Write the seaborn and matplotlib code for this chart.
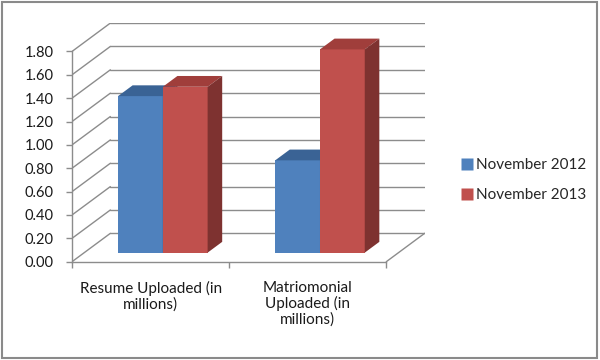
import matplotlib
matplotlib.use("Agg")
import matplotlib.pyplot as plt
from matplotlib.patches import Polygon, Rectangle
from matplotlib.lines import Line2D
import seaborn as sns
import pandas as pd

# --- data ---
categories = ["Resume Uploaded (in\nmillions)", "Matriomonial\nUploaded (in\nmillions)"]
series = ["November 2012", "November 2013"]
nov_2012 = [1.34, 0.79]
nov_2013 = [1.42, 1.74]
y_ticks = [0.0, 0.2, 0.4, 0.6, 0.8, 1.0, 1.2, 1.4, 1.6, 1.8]

FRONT = {"November 2012": "#4F81BD", "November 2013": "#C0504D"}
TOP = {"November 2012": "#3A6395", "November 2013": "#A03E3B"}
SIDE = {"November 2012": "#2F5079", "November 2013": "#7E3230"}
GRID = "#8C8C8C"

# oblique depth vector (data units) and where the bars sit inside it
DX, DY = 0.244, 0.243
D0, D1 = 0.32, 0.70

sns.set_theme(style="white")
plt.rcParams["font.family"] = ["Lato", "DejaVu Sans"]

df = pd.DataFrame({
    "Category": categories * 2,
    "Series": [series[0]] * 2 + [series[1]] * 2,
    "Value": nov_2012 + nov_2013,
})

fig = plt.figure(figsize=(6, 3.6), dpi=100)
ax = fig.add_axes([0.12, 0.273, 0.589, 0.6645])

sns.barplot(data=df, x="Category", y="Value", hue="Series", palette=FRONT,
            width=0.57, saturation=1, ax=ax, legend=False, linewidth=0,
            zorder=3)

ax.set_xlim(-0.5, 1.5 + DX + 0.005)
ax.set_ylim(0, y_ticks[-1] + DY + 0.005)

# back wall, side wall and floor
xl, xr = -0.5, len(categories) - 0.5
for v in y_ticks:
    ax.plot([xl + DX, xr + DX], [v + DY, v + DY], color=GRID, lw=1, zorder=1)
    ax.plot([xl, xl + DX], [v, v + DY], color=GRID, lw=1, zorder=1)
ax.plot([xr, xr + DX], [0, DY], color=GRID, lw=1, zorder=1)

# push bars back into the depth and add top/side faces
for i, bar in enumerate(ax.patches):
    s = series[i // len(categories)]
    z = 3 + i // len(categories)
    bar.set_x(bar.get_x() + D0 * DX)
    bar.set_y(bar.get_y() + D0 * DY)
    bar.set_zorder(z)
    x0, y0 = bar.get_x(), bar.get_y()
    w, h = bar.get_width(), bar.get_height()
    ddx, ddy = (D1 - D0) * DX, (D1 - D0) * DY
    top = [(x0, y0 + h), (x0 + w, y0 + h), (x0 + w + ddx, y0 + h + ddy), (x0 + ddx, y0 + h + ddy)]
    side = [(x0 + w, y0), (x0 + w + ddx, y0 + ddy), (x0 + w + ddx, y0 + h + ddy), (x0 + w, y0 + h)]
    ax.add_patch(Polygon(top, closed=True, facecolor=TOP[s], edgecolor="none", zorder=z))
    ax.add_patch(Polygon(side, closed=True, facecolor=SIDE[s], edgecolor="none", zorder=z))

# front axes
for sp in ["top", "right"]:
    ax.spines[sp].set_visible(False)
for sp in ["left", "bottom"]:
    ax.spines[sp].set_color(GRID)
    ax.spines[sp].set_linewidth(1)
ax.spines["left"].set_bounds(0, y_ticks[-1])
ax.spines["bottom"].set_bounds(xl, xr)

ax.set_yticks(y_ticks)
ax.set_yticklabels([f"{v:.2f}" for v in y_ticks], fontsize=10.5, color="#1a1a1a")
ax.tick_params(axis="y", length=4, width=1, color=GRID, pad=9, left=True)

ax.set_xticks(range(len(categories)))
ax.set_xticklabels(categories, fontsize=11, color="#1a1a1a", linespacing=1.1)
ax.set_xticks([xl + k for k in range(len(categories) + 1)], minor=True)
ax.tick_params(axis="x", which="major", length=0, pad=14)
ax.tick_params(axis="x", which="minor", length=4, width=1, color=GRID, bottom=True)
ax.set_xlabel("")
ax.set_ylabel("")
ax.grid(False)

handles = [Line2D([], [], marker="s", linestyle="", markersize=8,
                  markerfacecolor=FRONT[s], markeredgecolor="none") for s in series]
fig.legend(handles, series, loc="center left", bbox_to_anchor=(0.742, 0.5),
           frameon=False, fontsize=11, handletextpad=0.1, labelspacing=1.05,
           handlelength=1.0)

fig.patches.append(Rectangle((0.003, 0.005), 0.992, 0.99, transform=fig.transFigure,
                             fill=False, edgecolor="#8A8A8A", lw=1.5))

fig.savefig("out.png", dpi=100, facecolor="white")
